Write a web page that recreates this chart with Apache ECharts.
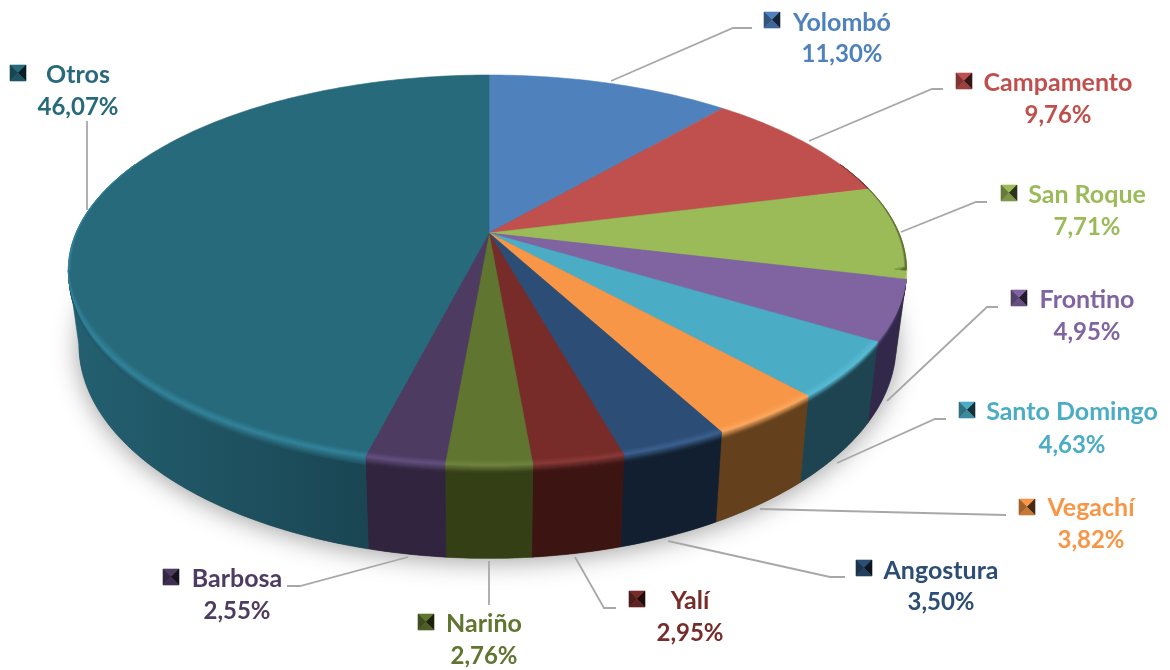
<!DOCTYPE html>
<html>
<head>
<meta charset="utf-8">
<style>html,body{margin:0;padding:0;background:#fff}#c{width:1170px;height:670px}</style>
<script src="https://cdn.jsdelivr.net/npm/echarts@6/dist/echarts.min.js"></script>
</head>
<body>
<div id="c"></div>
<script>
// ---- data ----
const categories = ['Yolombó','Campamento','San Roque','Frontino','Santo Domingo','Vegachí','Angostura','Yalí','Nariño','Barbosa','Otros'];
const shares = [11.30,9.76,7.71,4.95,4.63,3.82,3.50,2.95,2.76,2.55,46.07];

// ---- styles ----
const topColors  = ['#4f81bd','#c0504d','#9bbb59','#8064a2','#4bacc6','#f79646','#2c4d75','#772c2a','#5f7530','#4d3b62','#276a7c'];
const wallColors = ['#2c4a6e','#6e2d2b','#55682f','#32284a','#1d4450','#64401c','#121f30','#3c1412','#353f16','#31243e','#1a4552'];
const rimColors  = ['#6a98d0','#d56c69','#b4d274','#7e66a0','#58bcd6','#fba860','#3c6190','#8a3a38','#6f8540','#655080','#33859c'];

// ---- layout ----
const NAME_FONT = '700 25px Lato, sans-serif';
const PCT_FONT = '700 24px Lato, sans-serif';
const labelBoxes = [ // name centre x, name y, pct y, marker centre x, marker centre y
  [842,22,53,772,20],[1058,82,114,964,81],[1087,194,226,1009,193],[1087,299,331,1019,298],
  [1072,411,444,967,410],[1091,507,539,1027,507],[941,570,601,864,568],[690,600,632,637,599],
  [484,623,655,426,622],[237,578,610,171,577],[78,74,106,18,73]
];
const leaders = [
  [[611,81],[733,28],[752,28]],[[809,141],[932,89],[943,89]],[[901,232],[976,202],[987,202]],
  [[887,401],[987,307],[998,307]],[[837,463],[935,419],[946,419]],[[760,509],[985,514.5],[1006,515]],
  [[668,541],[830,577],[845,577]],[[575,557],[604,608],[616,608]],[[489,561],[489,605]],
  [[408,557],[300,586],[287,586]],[[87,121],[87,210]]
];
// projective view of the pie disc
const VIEW = {cx:489, cy:233, Ar:410, Al:413, B:188, p:0.19, depthS:0.975, depthY:71, depthB:206};
const FRONT = [101, 259];     // visible side wall, degrees clockwise from 12 o'clock
const BEVEL = 0.085;          // share of the depth used by the rounded edge
const SLIVER = 34;            // degrees over which the edge fades out beyond the wall

function rim(deg, t, r) {
  r = r === undefined ? 1 : r;
  const a = deg * Math.PI / 180, X = r * Math.sin(a), Y = -r * Math.cos(a), w = 1 - VIEW.p * Y;
  const A = X < 0 ? VIEW.Al : VIEW.Ar;
  const x0 = VIEW.cx + A * X / w, y0 = VIEW.cy + VIEW.B * Y / w;
  const x1 = VIEW.cx + VIEW.depthS * A * X / w, y1 = VIEW.cy + VIEW.depthY + VIEW.depthB * Y / w;
  return [x0 + (x1 - x0) * t, y0 + (y1 - y0) * t];
}
function arc(from, to, t, r) {
  const pts = [], n = Math.max(2, Math.ceil(Math.abs(to - from) / 1));
  for (let i = 0; i <= n; i++) pts.push(rim(from + (to - from) * i / n, t, r));
  return pts;
}
// arc whose radius follows a function of the angle
function arcR(from, to, rf) {
  const pts = [], n = Math.max(2, Math.ceil(Math.abs(to - from) / 1));
  for (let i = 0; i <= n; i++) { const d = from + (to - from) * i / n; pts.push(rim(d, 0, rf(d))); }
  return pts;
}
function hex(c){return [1,3,5].map(i=>parseInt(c.substr(i,2),16));}
function mix(a,b,k){const A=hex(a),B=hex(b);return 'rgb('+A.map((v,i)=>Math.round(v+(B[i]-v)*k)).join(',')+')';}
function poly(points, fill, extra) {
  return Object.assign({type:'polygon', shape:{points}, style:{fill, stroke:fill, lineWidth:0.6}, silent:true}, extra||{});
}
const starts = shares.reduce((acc,v,i)=>{acc.push(i?acc[i-1]+shares[i-1]:0);return acc;},[]);
const total = shares.reduce((a,b)=>a+b,0);

function taper(d) { // 0 at the ends of the wall, 1 well inside it
  return Math.min(1, Math.max(0, Math.min(d - FRONT[0], FRONT[1] - d) / 22));
}
function renderSlice(params, api) {
  const i = params.dataIndex, v = api.value(0);
  const from = starts[i] / total * 360, to = from + v / total * 360;
  const kids = [];
  // thin shaded edge beyond the silhouette on both sides
  const sl = (a, b, col) => {
    const f = Math.max(from, a), e = Math.min(to, b);
    if (e <= f) return;
    const th = k => d => { const o = d < FRONT[0] ? FRONT[0] - d : d - FRONT[1]; return 1 - k * Math.max(0, 1 - o / SLIVER); };
    kids.push(poly(arcR(f, e, th(0.005)).concat(arc(f, e, 0, 1).reverse()), mix(topColors[i], col, 0.45)));
    kids.push(poly(arcR(f, e, th(0.0025)).concat(arc(f, e, 0, 1).reverse()), mix(topColors[i], col, 0.9)));
  };
  sl(FRONT[0] - SLIVER, FRONT[0], wallColors[i]);
  sl(FRONT[1], FRONT[1] + SLIVER, rimColors[i]);
  const wf = Math.max(from, FRONT[0]), wt = Math.min(to, FRONT[1]);
  if (wt > wf) {
    let wallFill = wallColors[i];
    if (i === 10) {
      wallFill = {type:'linear', global:true, x:80, y:0, x2:372, y2:0,
        colorStops:[{offset:0,color:'#235f70'},{offset:1,color:wallColors[i]}]};
    }
    kids.push(poly(arc(wf, wt, BEVEL).concat(arc(wf, wt, 1).reverse()), wallFill));
    // rounded edge between the top face and the wall
    const steps = 8;
    const endCol = i === 10 ? '#1f5565' : wallColors[i];
    for (let s = 0; s < steps; s++) {
      const t0 = BEVEL * s / steps, t1 = BEVEL * (s + 1) / steps;
      kids.push(poly(arc(wf, wt, t0).concat(arc(wf, wt, t1).reverse()), mix(rimColors[i], endCol, (s + 0.5) / steps)));
    }
    // soft highlight just inside the rim, tapering towards the silhouette
    const inner = 5;
    for (let s = 0; s < inner; s++) {
      const a0 = 0.018 * (1 - s / inner), a1 = 0.018 * (1 - (s + 1) / inner);
      const r0 = d => 1 - a0 * taper(d), r1 = d => 1 - a1 * taper(d);
      kids.push(poly(arcR(wf, wt, r0).concat(arcR(wf, wt, r1).reverse()), mix(topColors[i], rimColors[i], (s + 0.5) / inner)));
    }
  }
  return {type:'group', children:kids};
}
function renderTop(params, api) {
  const i = params.dataIndex, v = api.value(0);
  const from = starts[i] / total * 360, to = from + v / total * 360;
  return poly([[VIEW.cx, VIEW.cy]].concat(arc(from, to, 0, 1)), topColors[i]);
}
function renderBase(params, api) {
  return {type:'polygon', shape:{points:arc(0, 360, 1)}, silent:true,
    style:{fill:'#555', shadowColor:'rgba(0,0,0,0.38)', shadowBlur:26, shadowOffsetX:0, shadowOffsetY:3}};
}
function renderLabel(params, api) {
  const i = params.dataIndex, v = api.value(0), b = labelBoxes[i], c = topColors[i];
  const mx = b[3], my = b[4], h = 8;
  const TL=[mx-h,my-h], TR=[mx+h,my-h], BR=[mx+h,my+h], BL=[mx-h,my+h], C=[mx,my];
  const kids = [
    {type:'polyline', shape:{points:leaders[i]}, style:{stroke:'#a8a8a8', lineWidth:1.8, fill:null}, silent:true},
    poly([TL,TR,C], c),
    poly([TL,BL,C], mix(c,'#000000',0.35)),
    poly([TR,BR,C], mix(c,'#000000',0.72)),
    poly([BL,BR,C], mix(c,'#000000',0.2)),
    {type:'text', silent:true, style:{text:categories[i], x:b[0], y:b[1]+1, fill:c, font:NAME_FONT, align:'center', verticalAlign:'middle'}},
    {type:'text', silent:true, style:{text:v.toFixed(2).replace('.',',')+'%', x:b[0], y:b[2]+1, fill:c, font:PCT_FONT, align:'center', verticalAlign:'middle'}}
  ];
  return {type:'group', children:kids};
}
const chart = echarts.init(document.getElementById('c'), null, {renderer:'canvas', width:1170, height:670});
const common = {type:'custom', coordinateSystem:'none', animation:false, silent:true};
chart.setOption({
  backgroundColor:'#ffffff',
  animation:false,
  series:[
    Object.assign({}, common, {name:'base', z:1, renderItem:renderBase, data:[[total]]}),
    Object.assign({}, common, {name:'top', z:2, renderItem:renderTop, data:shares.map(v=>[v])}),
    Object.assign({}, common, {name:'walls', z:3, renderItem:renderSlice, data:shares.map(v=>[v])}),
    Object.assign({}, common, {name:'labels', z:4, renderItem:renderLabel, data:shares.map(v=>[v])})
  ]
});
</script>
</body>
</html>
